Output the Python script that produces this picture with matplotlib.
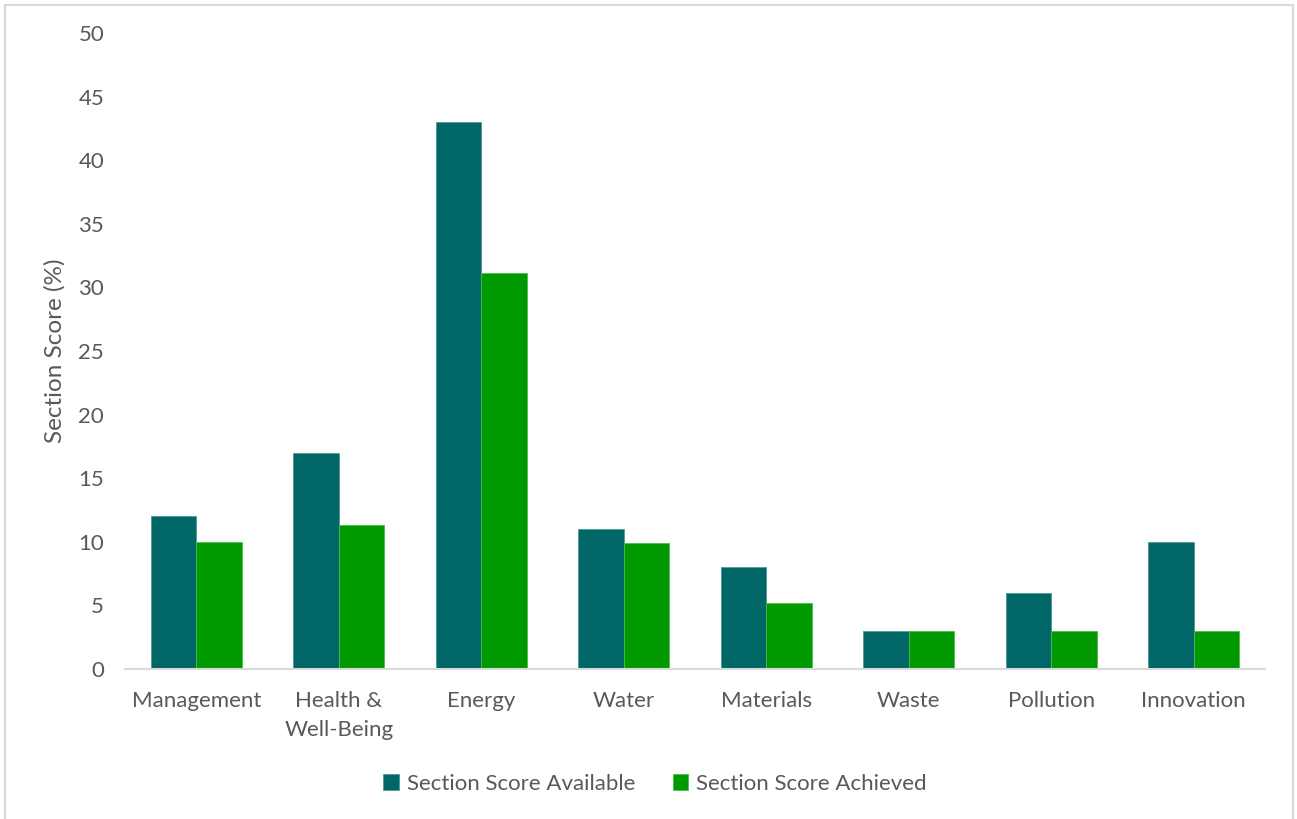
import matplotlib
matplotlib.use("Agg")
import matplotlib.pyplot as plt
import numpy as np
from matplotlib.patches import Rectangle

categories = ["Management", "Health &\nWell-Being", "Energy", "Water", "Materials", "Waste", "Pollution", "Innovation"]
available = [12, 17, 43, 11, 8, 3, 6, 10]
achieved = [10, 11.3, 31.1, 9.9, 5.2, 3, 3, 3]
series_names = ["Section Score Available", "Section Score Achieved"]
yticks = [0, 5, 10, 15, 20, 25, 30, 35, 40, 45, 50]

plt.rcParams['font.family'] = ['Lato', 'DejaVu Sans']
txt = "#595959"

fig = plt.figure(figsize=(12.97, 8.19), dpi=100)
fig.patches.append(Rectangle((5/1297, -0.05), (1293-5)/1297, 1.05 - 5/819, transform=fig.transFigure,
                             fill=False, edgecolor="#d9d9d9", linewidth=1.5))
ax = fig.add_axes([125/1297, 1 - 669/819, (1265-125)/1297, (669-33)/819])

x = np.arange(len(categories))
w = 0.318
b1 = ax.bar(x - w/2, available, w, color="#006666", edgecolor="#4d9999", linewidth=0.6, label=series_names[0])
b2 = ax.bar(x + w/2, achieved, w, color="#009900", edgecolor="#4dbb4d", linewidth=0.6, label=series_names[1])

ax.set_xlim(-0.5, len(categories) - 0.5)
ax.set_ylim(0, 50)
ax.set_yticks(yticks)
ax.set_xticks(x)
ax.set_xticklabels(categories, fontsize=16, color=txt, linespacing=1.55)
ax.tick_params(axis='y', labelsize=16, colors=txt, length=0, pad=15)
ax.tick_params(axis='x', length=0, pad=16)
for s in ["top", "right", "left"]:
    ax.spines[s].set_visible(False)
ax.spines["bottom"].set_color("#d9d9d9")
ax.spines["bottom"].set_linewidth(1.5)
ax.set_ylabel("Section Score (%)", fontsize=17.5, color=txt, labelpad=9)

leg = fig.legend(handles=[b1, b2], labels=series_names, loc="center", bbox_to_anchor=(655/1297, 1 - 784/819),
                 ncol=2, frameon=False, fontsize=16, handlelength=0.7, handleheight=0.7,
                 handletextpad=0.35, columnspacing=1.7)
for t in leg.get_texts():
    t.set_color(txt)

fig.savefig("out.png", dpi=100)
